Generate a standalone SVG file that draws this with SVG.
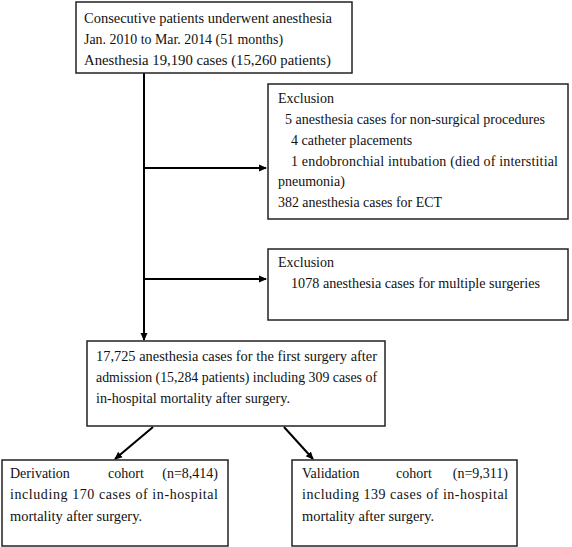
<svg xmlns="http://www.w3.org/2000/svg" width="572" height="547" viewBox="0 0 572 547">
<defs>
<marker id="ah" markerWidth="8" markerHeight="8" refX="7" refY="4" orient="auto" markerUnits="userSpaceOnUse">
<path d="M0,0.5 L8,4 L0,7.5 Z" fill="#000"/>
</marker>
<style>
.box{fill:#fff;stroke:#222;stroke-width:1.5}
.t{font-family:"Liberation Serif","Times New Roman",serif;font-size:14px;fill:#111}
.c{stroke:#000;stroke-width:2;fill:none}
</style>
</defs>
<rect width="572" height="547" fill="#fff"/>
<g id="connectors">
<line class="c" x1="144" y1="73" x2="144" y2="340" marker-end="url(#ah)"/>
<line class="c" x1="144" y1="168" x2="266" y2="168" marker-end="url(#ah)"/>
<line class="c" x1="144" y1="279" x2="266" y2="279" marker-end="url(#ah)"/>
<line class="c" x1="153" y1="427" x2="115" y2="459" marker-end="url(#ah)"/>
<line class="c" x1="284" y1="427" x2="313" y2="459" marker-end="url(#ah)"/>
</g>
<g id="start">
<rect class="box" x="76" y="2" width="276" height="71"/>
<text class="t" x="84" y="23" textLength="248" lengthAdjust="spacingAndGlyphs">Consecutive patients underwent anesthesia</text>
<text class="t" x="84" y="44" textLength="199" lengthAdjust="spacingAndGlyphs">Jan. 2010 to Mar. 2014 (51 months)</text>
<text class="t" x="84" y="65" textLength="247" lengthAdjust="spacingAndGlyphs">Anesthesia 19,190 cases (15,260 patients)</text>
</g>
<g id="exclusion1">
<rect class="box" x="268" y="84" width="300" height="135"/>
<text class="t" x="278" y="103">Exclusion</text>
<text class="t" x="285" y="124" textLength="260" lengthAdjust="spacingAndGlyphs">5 anesthesia cases for non-surgical procedures</text>
<text class="t" x="291" y="145">4 catheter placements</text>
<text class="t" x="291" y="166" textLength="267" lengthAdjust="spacing">1 endobronchial intubation (died of interstitial</text>
<text class="t" x="278" y="186">pneumonia)</text>
<text class="t" x="278" y="207" textLength="164" lengthAdjust="spacingAndGlyphs">382 anesthesia cases for ECT</text>
</g>
<g id="exclusion2">
<rect class="box" x="268" y="249" width="300" height="71"/>
<text class="t" x="278" y="267">Exclusion</text>
<text class="t" x="291" y="288" textLength="249" lengthAdjust="spacingAndGlyphs">1078 anesthesia cases for multiple surgeries</text>
</g>
<g id="firstSurgery">
<rect class="box" x="87" y="341" width="298" height="85"/>
<text class="t" x="96" y="361" textLength="281" lengthAdjust="spacingAndGlyphs">17,725 anesthesia cases for the first surgery after</text>
<text class="t" x="96" y="382" textLength="281" lengthAdjust="spacingAndGlyphs">admission (15,284 patients) including 309 cases of</text>
<text class="t" x="96" y="403" textLength="194" lengthAdjust="spacingAndGlyphs">in-hospital mortality after surgery.</text>
</g>
<g id="derivation">
<rect class="box" x="2" y="460" width="226" height="86"/>
<text class="t" x="10" y="478">Derivation</text>
<text class="t" x="126" y="478" text-anchor="middle">cohort</text>
<text class="t" x="218" y="478" text-anchor="end">(n=8,414)</text>
<text class="t" x="10" y="499" textLength="208" lengthAdjust="spacing">including 170 cases of in-hospital</text>
<text class="t" x="10" y="521" textLength="132" lengthAdjust="spacingAndGlyphs">mortality after surgery.</text>
</g>
<g id="validation">
<rect class="box" x="292" y="460" width="225" height="86"/>
<text class="t" x="302" y="478">Validation</text>
<text class="t" x="414" y="478" text-anchor="middle">cohort</text>
<text class="t" x="508" y="478" text-anchor="end">(n=9,311)</text>
<text class="t" x="302" y="499" textLength="206" lengthAdjust="spacing">including 139 cases of in-hospital</text>
<text class="t" x="302" y="521" textLength="132" lengthAdjust="spacingAndGlyphs">mortality after surgery.</text>
</g>
</svg>
